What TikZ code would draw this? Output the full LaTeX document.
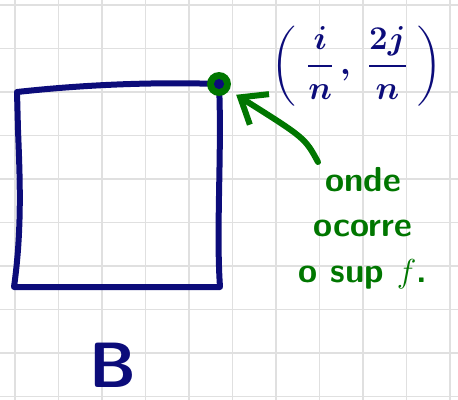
\documentclass[tikz,border=0pt]{standalone}
\usepackage{amsmath, amssymb}
\usepackage{tikz}
\usepackage{xcolor}
\usetikzlibrary{arrows.meta}
\definecolor{pennavy}{RGB}{12,12,122}
\definecolor{pengreen}{RGB}{0,118,0}

\begin{document}
\begin{tikzpicture}[x=0.75pt, y=-0.75pt,
  gridline/.style={draw=black!12, line width=1.1pt},
  navyline/.style={draw=pennavy, line width=4.5pt, line cap=round, line join=round},
  greenline/.style={draw=pengreen, line width=4.5pt, line cap=round},
  navynote/.style={text=pennavy, inner sep=0pt, font=\fontsize{25}{30}\selectfont\boldmath},
  greennote/.style={text=pengreen, font=\fontsize{26}{34}\selectfont\sffamily\bfseries, align=center}]
  \useasboundingbox (0,0) rectangle (458,400);
  \foreach \x in {0,...,10} \draw[gridline] (15+43.5*\x,0) -- (15+43.5*\x,400);
  \foreach \y in {0,...,9} \draw[gridline] (0,5+43.5*\y) -- (458,5+43.5*\y);

  % the square B
  \draw[navyline] (17,92) .. controls (90,84) and (160,82) .. (219,84)
    .. controls (222,150) and (216,230) .. (220,287) -- (14,287)
    .. controls (22,230) and (20,180) .. (18,130) -- cycle;

  \node (dot) at (219,84) [circle, fill=pengreen, minimum size=18pt, inner sep=0pt] {};
  \fill[pennavy] (dot.center) circle [radius=3.8pt];

  \node[navynote] (corner) at (357,66) {$\left(\;\dfrac{i}{n}\,,\;\dfrac{2j}{n}\;\right)$};
  \node[greennote] (note) at (363,228) {onde\\ocorre\\o sup $f$.};
  \node[text=pennavy, inner sep=0pt, font=\fontsize{48}{58}\selectfont\sffamily\bfseries] (B) at (113,365) {B};

  \coordinate (tail) at (318,162);
  \draw[greenline, -{Straight Barb[length=17pt, width=27pt]}, shorten >=6pt] (tail) .. controls (305,138) .. (dot);
\end{tikzpicture}
\end{document}
